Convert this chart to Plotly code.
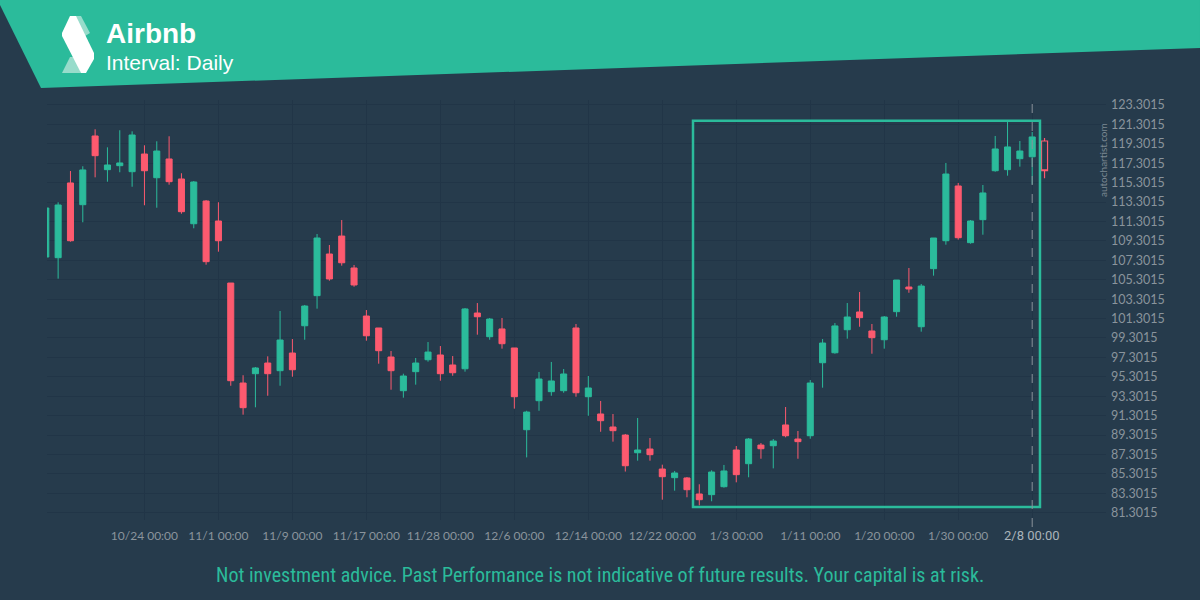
import plotly.graph_objects as go

# daily candles, index 0 = first bar on screen
opens = [107.64, 107.57, 115.27, 113.03, 120.11, 116.64, 117.05, 116.43, 118.25, 115.81,
         117.74, 115.68, 111.07, 113.41, 111.35, 104.96, 94.66, 95.62, 96.72, 95.93,
         97.75, 100.56, 103.66, 107.95, 109.80, 106.51, 101.56, 100.33, 97.34, 93.87,
         95.83, 97.06, 97.55, 96.52, 96.13, 101.87, 99.43, 100.23, 98.27, 89.85,
         92.84, 93.77, 93.87, 100.33, 93.25, 91.47, 90.13, 89.30, 87.48, 87.86,
         85.80, 84.91, 84.88, 83.23, 83.16, 83.98, 87.76, 86.35, 88.27, 88.20,
         90.34, 88.89, 89.23, 96.75, 97.78, 100.15, 101.98, 100.02, 99.12, 102.01,
         104.55, 100.46, 106.44, 109.32, 114.96, 109.12, 111.49, 116.53, 116.64, 117.77,
         117.97, 119.59]
highs = [112.80, 113.28, 116.50, 116.99, 120.80, 118.94, 120.70, 120.59, 119.15, 119.56,
         120.08, 116.27, 115.47, 113.51, 113.28, 104.96, 95.46, 96.31, 97.41, 102.08,
         99.19, 102.70, 110.01, 108.88, 111.45, 106.82, 102.18, 100.33, 97.96, 95.62,
         97.24, 98.88, 98.47, 97.44, 102.39, 102.90, 101.36, 101.36, 98.27, 91.80,
         95.80, 96.83, 96.10, 100.74, 95.38, 92.81, 91.47, 89.41, 91.06, 88.99,
         86.25, 85.60, 84.98, 84.23, 85.67, 86.22, 88.17, 88.99, 88.48, 88.89,
         92.19, 89.72, 94.97, 99.19, 100.84, 102.90, 104.04, 100.74, 101.56, 105.27,
         106.51, 104.86, 109.60, 117.33, 115.27, 111.45, 115.06, 120.11, 121.55, 119.59,
         120.52, 119.90]
lows = [107.50, 105.41, 109.22, 111.22, 115.85, 115.40, 116.37, 114.88, 112.97, 112.72,
        115.09, 112.10, 110.60, 106.85, 108.19, 94.38, 91.40, 92.16, 93.35, 94.38,
        95.31, 99.12, 102.32, 105.20, 106.75, 104.58, 99.02, 96.65, 93.97, 93.15,
        94.49, 96.86, 94.90, 95.41, 95.83, 99.64, 99.12, 98.20, 92.02, 87.00,
        91.80, 93.35, 93.66, 93.25, 91.29, 89.64, 88.62, 85.54, 86.66, 86.66,
        82.64, 83.57, 82.89, 82.06, 82.48, 83.88, 84.43, 84.95, 86.86, 85.87,
        89.07, 86.86, 88.92, 94.18, 97.68, 99.23, 100.46, 97.68, 98.20, 101.49,
        103.96, 99.95, 105.72, 108.91, 109.43, 109.01, 109.94, 116.43, 116.02, 116.95,
        115.11, 115.75]
closes = [112.69, 113.00, 109.32, 116.61, 118.08, 117.12, 117.33, 120.21, 116.53, 118.56,
          115.40, 112.31, 115.37, 107.16, 109.32, 94.90, 92.12, 96.21, 95.62, 99.09,
          96.03, 102.59, 109.60, 105.38, 107.05, 104.76, 99.53, 97.99, 95.93, 95.38,
          96.72, 97.85, 95.62, 95.72, 102.29, 101.49, 101.25, 98.71, 93.25, 91.67,
          95.07, 94.87, 95.59, 93.66, 94.15, 90.78, 89.75, 86.14, 87.76, 87.28,
          85.01, 85.39, 83.67, 82.64, 85.49, 85.60, 85.22, 88.89, 87.89, 88.68,
          89.23, 88.62, 94.66, 98.78, 100.54, 101.46, 101.39, 99.33, 101.46, 105.27,
          104.35, 104.65, 109.60, 116.19, 109.63, 111.35, 114.24, 118.77, 118.98, 118.56,
          120.01, 116.53]

date_labels = ["10/24 00:00", "11/1 00:00", "11/9 00:00", "11/17 00:00", "11/28 00:00",
               "12/6 00:00", "12/14 00:00", "12/22 00:00", "1/3 00:00", "1/11 00:00",
               "1/20 00:00", "1/30 00:00", "2/8 00:00"]
first_label_bar = 8
bars_per_label = 6

price_ticks = [81.3015 + 2 * k for k in range(22)]

# pattern box (bar index / price)
box_x = [52.49, 80.63]
box_y = [81.89, 121.68]
signal_bar = 80

BG = "#263b4c"
TEAL = "#2bbb9b"
RED = "#fd5a6f"
GRID = "#213547"

W, H = 1200, 600
ML, MR, MT, MB = 47, 94, 100, 80
PW, PH = W - ML - MR, H - MT - MB


def px(x):
    return (x - ML) / PW


def py(y):
    return (H - MB - y) / PH


def path(points):
    return "M " + " L ".join(f"{px(a):.5f},{py(b):.5f}" for a, b in points) + " Z"


n = len(opens)
idx = list(range(n))
tick_pos = [first_label_bar + bars_per_label * i for i in range(len(date_labels))]

fig = go.Figure()
fig.add_trace(go.Candlestick(
    x=idx[:-1], open=opens[:-1], high=highs[:-1], low=lows[:-1], close=closes[:-1],
    increasing=dict(line=dict(color=TEAL, width=1), fillcolor=TEAL),
    decreasing=dict(line=dict(color=RED, width=1), fillcolor=RED),
    whiskerwidth=0, showlegend=False,
))
# current (unfinished) bar drawn hollow
fig.add_trace(go.Candlestick(
    x=idx[-1:], open=opens[-1:], high=highs[-1:], low=lows[-1:], close=closes[-1:],
    increasing=dict(line=dict(color=TEAL, width=1), fillcolor="rgba(0,0,0,0)"),
    decreasing=dict(line=dict(color=RED, width=1.2), fillcolor="rgba(0,0,0,0)"),
    whiskerwidth=0, showlegend=False,
))

x0 = (ML - 45.8) / 12.33
shapes = [
    # header band
    dict(type="path", xref="paper", yref="paper", layer="above",
         path=path([(0, 0), (W, 0), (W, 48), (41, 88), (0, 5)]),
         fillcolor=TEAL, line=dict(width=0)),
    # logo
    dict(type="path", xref="paper", yref="paper", layer="above",
         path=path([(75, 16), (81, 16), (90, 33), (85, 36)]),
         fillcolor="#97dccb", line=dict(width=0)),
    dict(type="path", xref="paper", yref="paper", layer="above",
         path=path([(70, 57), (76, 57), (81, 73), (62, 73)]),
         fillcolor="#97dccb", line=dict(width=0)),
    dict(type="path", xref="paper", yref="paper", layer="above",
         path=path([(70, 16), (76, 16), (94, 53), (94, 59), (86, 73), (81, 73), (62, 36), (62, 33)]),
         fillcolor="white", line=dict(width=0)),
    # pattern rectangle
    dict(type="rect", x0=box_x[0], x1=box_x[1], y0=box_y[0], y1=box_y[1],
         line=dict(color=TEAL, width=2.5)),
    # signal line
    dict(type="line", x0=signal_bar, x1=signal_bar, yref="paper", y0=py(527), y1=py(103),
         line=dict(color="#8a939a", width=1, dash="dash")),
]

annotations = [
    dict(text="<b>Airbnb</b>", x=px(104), y=py(34), xref="paper", yref="paper",
         xanchor="left", yanchor="middle", showarrow=False,
         font=dict(family="Liberation Sans, Arial", size=28, color="white")),
    dict(text="Interval: Daily", x=px(104), y=py(62), xref="paper", yref="paper",
         xanchor="left", yanchor="middle", showarrow=False,
         font=dict(family="Liberation Sans, Arial", size=21, color="white")),
    dict(text="Not investment advice. Past Performance is not indicative of future results. Your capital is at risk.",
         x=px(600), y=py(575), xref="paper", yref="paper", xanchor="center", yanchor="middle",
         showarrow=False,
         font=dict(family="Liberation Sans Narrow, Roboto Condensed, Liberation Sans", size=20, color=TEAL)),
    dict(text="autochartist.com", x=px(1103), y=py(160), xref="paper", yref="paper",
         xanchor="center", yanchor="middle", textangle=-90, showarrow=False,
         font=dict(family="Lato", size=10, color="#7c8993")),
    dict(text=date_labels[-1], x=tick_pos[-1], y=py(535), yref="paper",
         xanchor="center", yanchor="middle", showarrow=False,
         font=dict(family="Roboto", size=13, color="#aab3ba")),
]

fig.update_layout(
    width=W, height=H,
    margin=dict(l=ML, r=MR, t=MT, b=MB),
    paper_bgcolor=BG, plot_bgcolor=BG,
    shapes=shapes, annotations=annotations,
    showlegend=False,
    xaxis=dict(
        range=[x0, x0 + PW / 12.33],
        rangeslider=dict(visible=False),
        tickvals=tick_pos, ticktext=date_labels[:-1] + [""],
        tickfont=dict(family="Lato", size=12, color="#8a949c"),
        showgrid=True, gridcolor=GRID, gridwidth=1,
        zeroline=False, showline=False, ticks="",
        ticklabelstandoff=7,
    ),
    yaxis=dict(
        side="right",
        range=[80.549, 123.816],
        tickvals=price_ticks, ticktext=[f"{v:.4f}" for v in price_ticks],
        tickfont=dict(family="Lato", size=12.5, color="#8a949c"),
        showgrid=True, gridcolor=GRID, gridwidth=1,
        zeroline=False, showline=False, ticks="",
        ticklabelstandoff=4,
    ),
)

fig.write_html("out.html", config={"displayModeBar": False},
               post_script="document.body.style.margin='0px';")
